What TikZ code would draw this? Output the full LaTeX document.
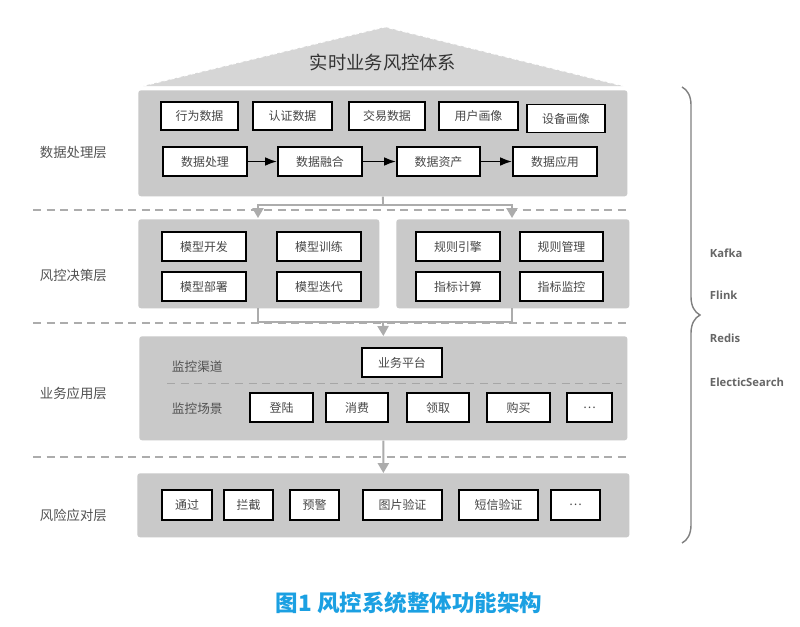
\documentclass[tikz,border=0pt]{standalone}
\usepackage{fontspec}
\setmainfont{Noto Sans CJK SC}
\newfontfamily\techfont{Open Sans}
\usetikzlibrary{arrows.meta,positioning,calc,decorations.pathreplacing}
\definecolor{panelgray}{RGB}{201,201,201}
\definecolor{roofgray}{RGB}{214,214,214}
\definecolor{linkgray}{RGB}{172,172,172}
\definecolor{capblue}{RGB}{27,160,226}
\tikzset{
  panel/.style={fill=panelgray,rounded corners=2pt,inner sep=0,anchor=north west},
  blk/.style={draw=black,line width=1.3pt,fill=white,text=black!72,inner sep=0,
    minimum height=0.725cm,font=\fontsize{8.5}{10}\selectfont},
  layer/.style={anchor=west,text=black!68,font=\fontsize{9.5}{11}\selectfont},
  sep/.style={draw=linkgray,line width=0.9pt,dash pattern=on 0.2cm off 0.14cm},
  link/.style={draw=linkgray,line width=1.3pt},
  tech/.style={anchor=west,text=black!60,font=\techfont\bfseries\fontsize{8}{10}\selectfont}
}

\begin{document}
\begin{tikzpicture}[x=0.025cm,y=-0.025cm]
    \fill[white] (0,0) rectangle (800,626);
    \useasboundingbox (0,0) rectangle (800,626);
    % roof
    \fill[roofgray] (143,86) -- (385,27) -- (623,86) -- cycle;
    \draw[white,line width=0.6pt,densely dashed] (143,86) -- (385,27) -- (623,86);
    \node[font=\fontsize{13}{15}\selectfont,text=black!80] (title) at (383,62) {实时业务风控体系};
    % panels
    \node[panel,minimum width=12.225cm,minimum height=2.65cm] (p1) at (138,90) {};
    \node[panel,minimum width=6.025cm,minimum height=2.225cm] (p2a) at (138,219) {};
    \node[panel,minimum width=5.825cm,minimum height=2.225cm] (p2b) at (396,219) {};
    \node[panel,minimum width=12.2cm,minimum height=2.6cm] (p3) at (139,336) {};
    \node[panel,minimum width=12.3cm,minimum height=1.6cm] (p4) at (137,473) {};
    \foreach \y in {210,323,457}
      \draw[sep] (33,\y) -- (630,\y);
    % layer names
    \node[layer] (l1) at (35,152) {数据处理层};
    \node[layer] (l2) at (35,275) {风控决策层};
    \node[layer] (l3) at (35,393) {业务应用层};
    \node[layer] (l4) at (35,515) {风险应对层};
    % data layer
    \node[blk,minimum width=1.925cm,minimum height=0.7cm] (src1) at (199.5,116) {行为数据};
    \node[blk,minimum width=1.975cm,minimum height=0.7cm] (src2) at (292.5,116) {认证数据};
    \node[blk,minimum width=1.9cm,minimum height=0.7cm] (src3) at (387,116) {交易数据};
    \node[blk,minimum width=1.975cm,minimum height=0.7cm] (src4) at (478.5,116) {用户画像};
    \node[blk,minimum width=1.95cm,minimum height=0.7cm] (src5) at (566,118.5) {设备画像};
    \node[blk,minimum width=2.1cm] (d1) at (205,161.5) {数据处理};
    \node[blk,minimum width=2.1cm] (d2) at (320,161.5) {数据融合};
    \node[blk,minimum width=2.075cm] (d3) at (438.5,161.5) {数据资产};
    \node[blk,minimum width=2.1cm] (d4) at (555,161.5) {数据应用};
    \foreach \a/\b in {d1/d2,d2/d3,d3/d4}
      \draw[line width=1.3pt,-{Latex[length=0.3cm,width=0.22cm]}] (\a) -- (\b);
    % decision layer
    \node[blk,minimum width=2.1cm] (m1) at (204,246.5) {模型开发};
    \node[blk,minimum width=2.1cm] (m2) at (319,246.5) {模型训练};
    \node[blk,minimum width=2.1cm] (m3) at (204,286.5) {模型部署};
    \node[blk,minimum width=2.1cm] (m4) at (319,286.5) {模型迭代};
    \node[blk,minimum width=2.1cm] (r1) at (458,246.5) {规则引擎};
    \node[blk,minimum width=2.075cm] (r2) at (561.5,246.5) {规则管理};
    \node[blk,minimum width=2.1cm] (r3) at (458,286.5) {指标计算};
    \node[blk,minimum width=2.075cm] (r4) at (561.5,286.5) {指标监控};
    % application layer
    \node[layer,font=\fontsize{9}{11}\selectfont] (chan) at (167,367) {监控渠道};
    \node[blk,minimum width=2cm] (plat) at (402,362.5) {业务平台};
    \draw[sep,draw=black!35,line width=0.7pt] (167,383) -- (622,383);
    \node[layer,font=\fontsize{9}{11}\selectfont] (scen) at (167,409) {监控场景};
    \node[blk,minimum width=1.575cm] (s1) at (281.5,407.5) {登陆};
    \node[blk,minimum width=1.55cm] (s2) at (357,407.5) {消费};
    \node[blk,minimum width=1.55cm] (s3) at (438,407.5) {领取};
    \node[blk,minimum width=1.575cm] (s4) at (518.5,407.5) {购买};
    \node[blk,minimum width=1.125cm] (s5) at (589.5,407.5) {…};
    % response layer
    \node[blk,minimum width=1.25cm,minimum height=0.75cm] (a1) at (187,505) {通过};
    \node[blk,minimum width=1.225cm,minimum height=0.75cm] (a2) at (248.5,505) {拦截};
    \node[blk,minimum width=1.225cm,minimum height=0.75cm] (a3) at (314.5,505) {预警};
    \node[blk,minimum width=1.975cm,minimum height=0.75cm] (a4) at (402.5,505) {图片验证};
    \node[blk,minimum width=1.975cm,minimum height=0.75cm] (a5) at (498.5,505) {短信验证};
    \node[blk,minimum width=1.225cm,minimum height=0.75cm] (a6) at (575.5,505) {…};
    % flow between layers
    \coordinate (j1) at (383,205);
    \coordinate (in2a) at (258,218);
    \coordinate (in2b) at (512,218);
    \coordinate (out2a) at (258,308);
    \coordinate (out2b) at (512,308);
    \coordinate (j2) at (383,322);
    \draw[link] (p1.south) -- (j1);
    \draw[link,-{Triangle[length=0.25cm,width=0.28cm]}] (j1) -| (in2a);
    \draw[link,-{Triangle[length=0.25cm,width=0.28cm]}] (j1) -| (in2b);
    \draw[link] (out2a) |- (j2) -| (out2b);
    \draw[link,-{Triangle[length=0.25cm,width=0.28cm]}] (j2) -- (p3.north);
    \draw[link,-{Triangle[length=0.25cm,width=0.28cm]}] (p3.south) -- (p4.north);
    % tech stack
    \draw[decorate,decoration={brace,amplitude=0.45cm},draw=black!50,line width=1pt] (682,87) -- (682,543);
    \node[tech] (kafka) at (705,253) {Kafka};
    \node[tech] (flink) at (705,295) {Flink};
    \node[tech] (redis) at (705,338) {Redis};
    \node[tech] (es) at (705,382) {ElecticSearch};
    \node[font=\bfseries\fontsize{16}{18}\selectfont,text=capblue] (cap) at (409,603) {图1 风控系统整体功能架构};
  \end{tikzpicture}
\end{document}
